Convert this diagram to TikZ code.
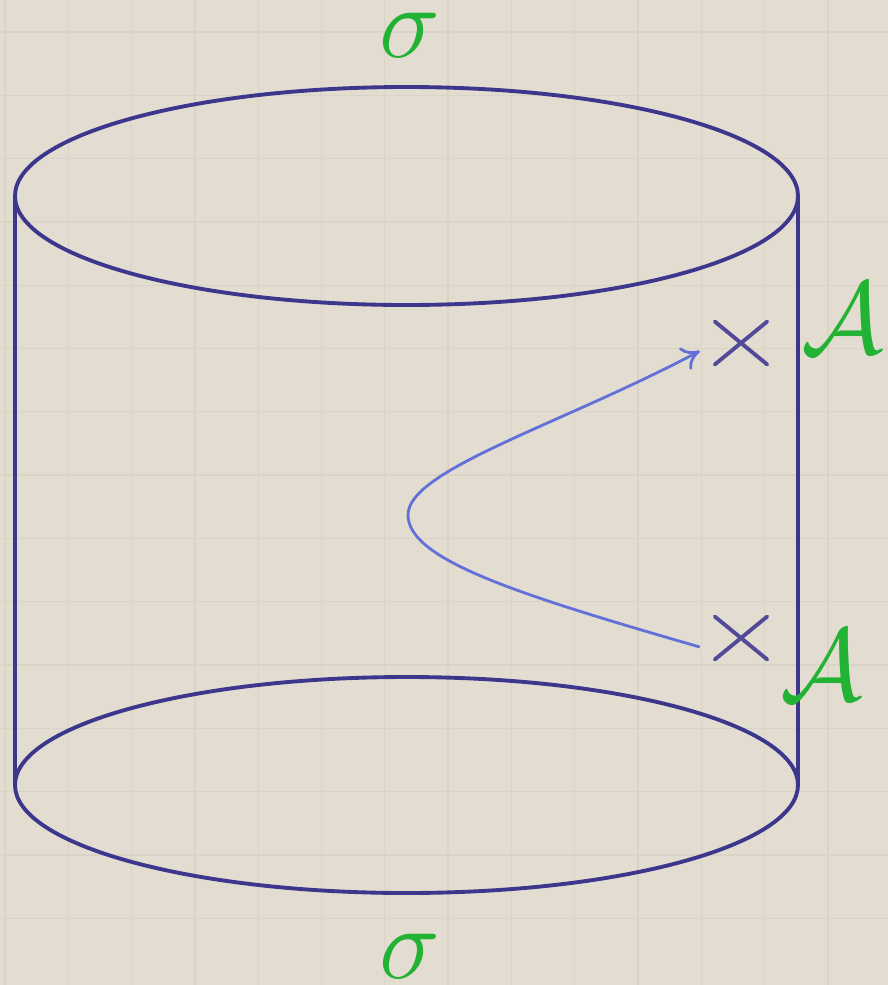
\documentclass[tikz,border=0pt]{standalone}
\usepackage{amsmath,amssymb,graphicx}
\usepackage{tikz}
\usetikzlibrary{arrows.meta,shapes.misc,calc}
\definecolor{PaperBeige}{RGB}{226,221,208}
\definecolor{GridBeige}{RGB}{218,212,199}
\definecolor{CylBlue}{RGB}{60,55,140}
\definecolor{MarkBlue}{RGB}{82,74,152}
\definecolor{PathBlue}{RGB}{98,112,215}
\definecolor{LabelGreen}{RGB}{34,178,52}
\newcommand{\insertion}[2]{%
  \node[crossmark] (#1) at (#2) {};}
\newcommand{\bigsym}[1]{\scalebox{2.35}{\Huge$#1$}}

\begin{document}
\begin{tikzpicture}[x=0.02cm,y=-0.02cm,
  crossmark/.style={cross out,draw=MarkBlue,line width=2.2pt,line cap=round,minimum width=1.05cm,minimum height=0.86cm,inner sep=0pt,outer sep=0pt},
  biglabel/.style={text=LabelGreen,inner sep=0pt}]
  \useasboundingbox (0,0) rectangle (888,985);
  \fill[PaperBeige] (0,0) rectangle (888,985);
  % faint paper grid
  \foreach \k in {0,...,14}{
    \draw[GridBeige,line width=0.7pt] ({5+63.3*\k},0)--({5+63.3*\k},985);
    \draw[GridBeige,line width=0.7pt] (0,{32+63.3*\k})--(888,{32+63.3*\k});
  }
  % cylinder
  \draw[CylBlue,line width=2.2pt] (406.5,196) ellipse [x radius=391.5,y radius=109];
  \draw[CylBlue,line width=2.2pt] (406.5,785) ellipse [x radius=391.5,y radius=108];
  \draw[CylBlue,line width=2.2pt] (15,196)--(15,785);
  \draw[CylBlue,line width=2.2pt] (798,196)--(798,785);
  \node[biglabel,anchor=base] (sigTop) at (410,57) {\bigsym{\sigma}};
  \node[biglabel,anchor=base] (sigBot) at (410,978) {\bigsym{\sigma}};
  % insertions
  \insertion{crossTop}{741,343}
  \insertion{crossBot}{741,638}
  \node[biglabel,anchor=base west] (aTop) at (801,353) {\bigsym{\mathcal{A}}};
  \node[biglabel,anchor=base west] (aBot) at (780,700) {\bigsym{\mathcal{A}}};
  \draw[-{To[length=3.5mm,width=5mm]},PathBlue,line width=1.6pt]
    ($(crossBot.west)+(-15,9)$) .. controls (520,595) and (408,560) .. (408,515)
    .. controls (408,470) and (560,425) .. ($(crossTop.west)+(-15,8)$);
\end{tikzpicture}
\end{document}
